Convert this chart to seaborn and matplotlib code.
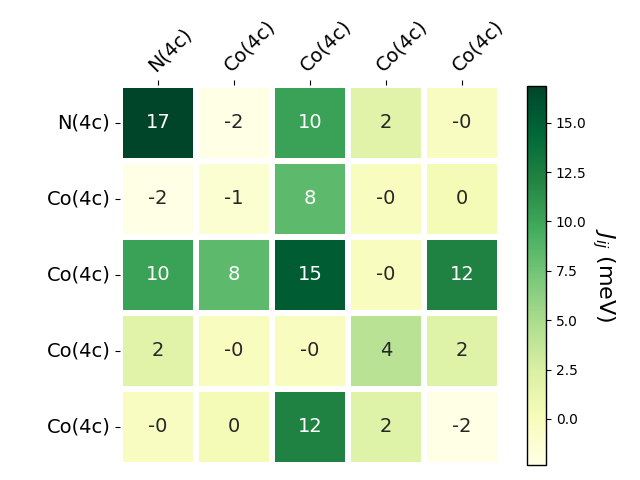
import numpy as np
import pandas as pd
import matplotlib
matplotlib.use("Agg")
import matplotlib.pyplot as plt
import seaborn as sns

labels = ["N(4c)", "Co(4c)", "Co(4c)", "Co(4c)", "Co(4c)"]
row0 = [16.86, -2.33, 10.2, 1.9, -0.3]
row1 = [-2.33, -1.2, 8.4, -0.2, 0.3]
row2 = [10.2, 8.4, 15.2, -0.2, 12.3]
row3 = [1.9, -0.2, -0.2, 4.2, 2.0]
row4 = [-0.3, 0.3, 12.3, 2.0, -2.3]

data = np.array([row0, row1, row2, row3, row4])

fig = plt.figure(figsize=(6.4, 4.8), dpi=100)
ax = fig.add_axes([120/640, 1-465/480, 380/640, 380/480])
cax = fig.add_axes([527/640, 1-465/480, 19/640, 379/480])

sns.heatmap(data, ax=ax, cbar_ax=cax, cmap="YlGn", annot=True, fmt=".0f",
            annot_kws={"fontsize": 14}, linewidths=3, linecolor="white",
            xticklabels=labels, yticklabels=labels)

ax.xaxis.tick_top()
ax.tick_params(axis="both", labelsize=14)
plt.setp(ax.get_xticklabels(), rotation=45, ha="left", rotation_mode="anchor")
plt.setp(ax.get_yticklabels(), rotation=0)

cbar = ax.collections[0].colorbar
cbar.outline.set_visible(True)
cbar.outline.set_edgecolor("black")
cbar.outline.set_linewidth(1)
cbar.set_label("$J_{ij}$ (meV)", rotation=270, fontsize=16, labelpad=22)
cax.tick_params(labelsize=10)

fig.savefig("out.png", dpi=100)
